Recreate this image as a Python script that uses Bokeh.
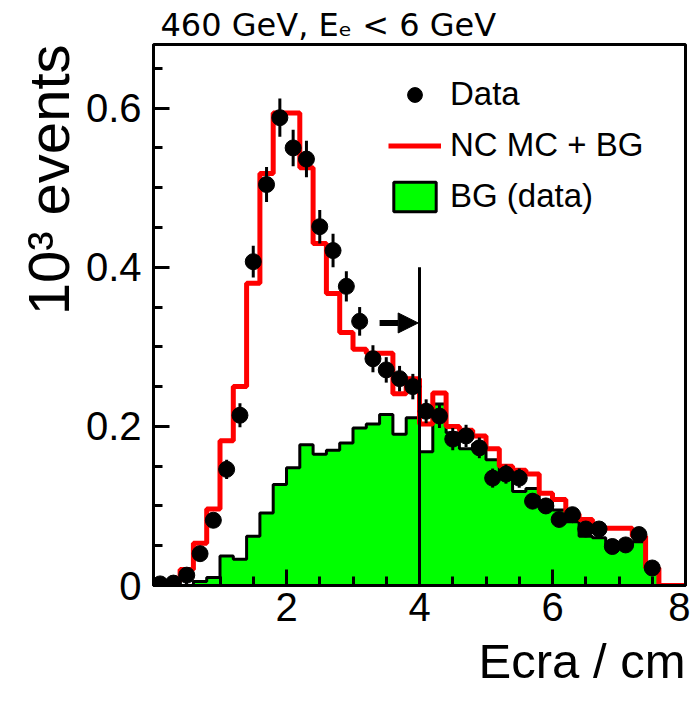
import numpy as np
from bokeh.plotting import figure
from bokeh.models import (FixedTicker, Legend, LegendItem, Arrow, NormalHead,
                          ColumnDataSource, Title)
from bokeh.embed import file_html
from bokeh.resources import INLINE

# ---------------- data (10^3 events) ----------------
bin_edges = np.linspace(0.0, 8.0, 41)          # 0.2 cm bins

mc_plus_bg = [0.002, 0.005, 0.020, 0.053, 0.096, 0.182, 0.250, 0.380, 0.518, 0.594,
              0.594, 0.525, 0.430, 0.367, 0.318, 0.297, 0.292, 0.292, 0.241, 0.260,
              0.203, 0.242, 0.200, 0.195, 0.188, 0.172, 0.150, 0.145, 0.140, 0.116,
              0.108, 0.090, 0.083, 0.072, 0.072, 0.072, 0.062, 0.022, 0.0, 0.0]

bg_data = [0.0, 0.0, 0.0, 0.005, 0.010, 0.037, 0.033, 0.062, 0.091, 0.127,
           0.148, 0.177, 0.165, 0.170, 0.179, 0.198, 0.203, 0.215, 0.190, 0.211,
           0.168, 0.228, 0.192, 0.172, 0.178, 0.158, 0.140, 0.118, 0.122, 0.105,
           0.095, 0.080, 0.062, 0.060, 0.050, 0.050, 0.055, 0.020, 0.0, 0.0]

data_y = [0.002, 0.003, 0.013, 0.040, 0.082, 0.146, 0.214, 0.407, 0.504, 0.588,
          0.550, 0.536, 0.451, 0.421, 0.376, 0.332, 0.285, 0.271, 0.260, 0.250,
          0.219, 0.213, 0.184, 0.188, 0.173, 0.135, 0.140, 0.135, 0.106, 0.100,
          0.083, 0.089, 0.071, 0.071, 0.049, 0.051, 0.064, 0.022]
data_err = [0.0015, 0.002, 0.004, 0.006, 0.009, 0.012, 0.015, 0.020, 0.022, 0.024,
            0.023, 0.023, 0.021, 0.021, 0.019, 0.018, 0.017, 0.016, 0.016, 0.016,
            0.015, 0.015, 0.014, 0.014, 0.013, 0.012, 0.012, 0.012, 0.010, 0.010,
            0.009, 0.009, 0.008, 0.008, 0.007, 0.007, 0.008, 0.005]

cut_x = 4.0            # Ecra cut
cut_line_top = 0.40
arrow_from_x = 3.4
arrow_y = 0.330

x_ticks = [2, 4, 6, 8]
y_ticks = [0, 0.2, 0.4, 0.6]
y_tick_labels = {0: "0", 0.2: "0.2", 0.4: "0.4", 0.6: "0.6"}

title_text = "460 GeV, E\u2091 < 6 GeV"
x_label = "Ecra / cm"
y_label = "10\u00b3 events"

# ---------------- derived tables ----------------
centers = (bin_edges[:-1] + bin_edges[1:]) / 2
data_x = centers[:len(data_y)]
dy = np.array(data_y)
de = np.array(data_err)

step_y = list(mc_plus_bg) + [mc_plus_bg[-1]]

patch_x, patch_y = [0.0], [0.0]
for i, v in enumerate(bg_data):
    patch_x += [bin_edges[i], bin_edges[i + 1]]
    patch_y += [v, v]
patch_x += [bin_edges[-1]]
patch_y += [0.0]

# ---------------- figure ----------------
p = figure(width=690, height=709, x_range=(0, 8), y_range=(0, 0.68),
           output_backend="svg", toolbar_location=None,
           min_border_left=153, min_border_right=5, min_border_top=44,
           min_border_bottom=124, background_fill_color="white",
           border_fill_color="white")
p.grid.visible = False
p.outline_line_color = "black"
p.outline_line_width = 3

bg_r = p.patch(patch_x, patch_y, fill_color="#00ff00", line_color="black", line_width=3)
mc_r = p.step(x=bin_edges, y=step_y, mode="after", line_color="#ff0000", line_width=5)

p.segment(x0=[cut_x], y0=[0], x1=[cut_x], y1=[cut_line_top], line_color="black", line_width=3)
p.add_layout(Arrow(x_start=arrow_from_x, y_start=arrow_y, x_end=cut_x - 0.02, y_end=arrow_y,
                   line_color="black", line_width=6,
                   end=NormalHead(size=20, fill_color="black", line_color="black")))

src = ColumnDataSource(dict(x=data_x, y=dy, lo=dy - de, hi=dy + de))
p.segment(x0="x", y0="lo", x1="x", y1="hi", source=src, line_color="black", line_width=3)
pts = p.scatter(x="x", y="y", source=src, size=16, fill_color="black", line_color="black")

# axes
for ax in (p.xaxis[0], p.yaxis[0]):
    ax.axis_line_width = 3
    ax.axis_line_color = "black"
    ax.major_tick_in = 16
    ax.major_tick_out = 0
    ax.minor_tick_in = 9
    ax.minor_tick_out = 0
    ax.major_tick_line_width = 3
    ax.minor_tick_line_width = 3
    ax.major_label_text_font = "Liberation Sans"
    ax.major_label_text_font_size = "40px"
    ax.major_label_text_color = "black"
    ax.major_label_standoff = 12
p.xaxis.major_label_standoff = 7

p.xaxis.ticker = FixedTicker(ticks=x_ticks, minor_ticks=list(np.arange(0, 8.01, 0.5)))
p.yaxis.ticker = FixedTicker(ticks=y_ticks, minor_ticks=list(np.arange(0, 0.681, 0.05)))
p.yaxis.major_label_overrides = y_tick_labels

# axis titles as side-panel titles (right/top aligned like the reference)
p.add_layout(Title(text=y_label, align="right", offset=0, standoff=3,
                   text_font="Liberation Sans", text_font_size="58px",
                   text_font_style="normal", text_color="black"), "left")
p.add_layout(Title(text=x_label, align="right", offset=0, standoff=16,
                   text_font="Liberation Sans", text_font_size="49px",
                   text_font_style="normal", text_color="black"), "below")

# legend
legend = Legend(items=[LegendItem(label="Data", renderers=[pts]),
                       LegendItem(label="NC MC + BG", renderers=[mc_r]),
                       LegendItem(label="BG (data)", renderers=[bg_r])],
                location=(235, 370), glyph_width=53, glyph_height=37,
                label_text_font="Liberation Sans", label_text_font_size="33px",
                label_text_color="black",
                label_standoff=9, spacing=13, padding=0, margin=0,
                border_line_alpha=0, background_fill_alpha=0)
p.add_layout(legend)

# title above the frame
p.add_layout(Title(text=title_text, align="left", offset=7, standoff=2,
                   text_font="DejaVu Sans", text_font_size="32px",
                   text_font_style="normal", text_color="black"), "above")

open("out.html", "w").write(file_html(p, INLINE))
